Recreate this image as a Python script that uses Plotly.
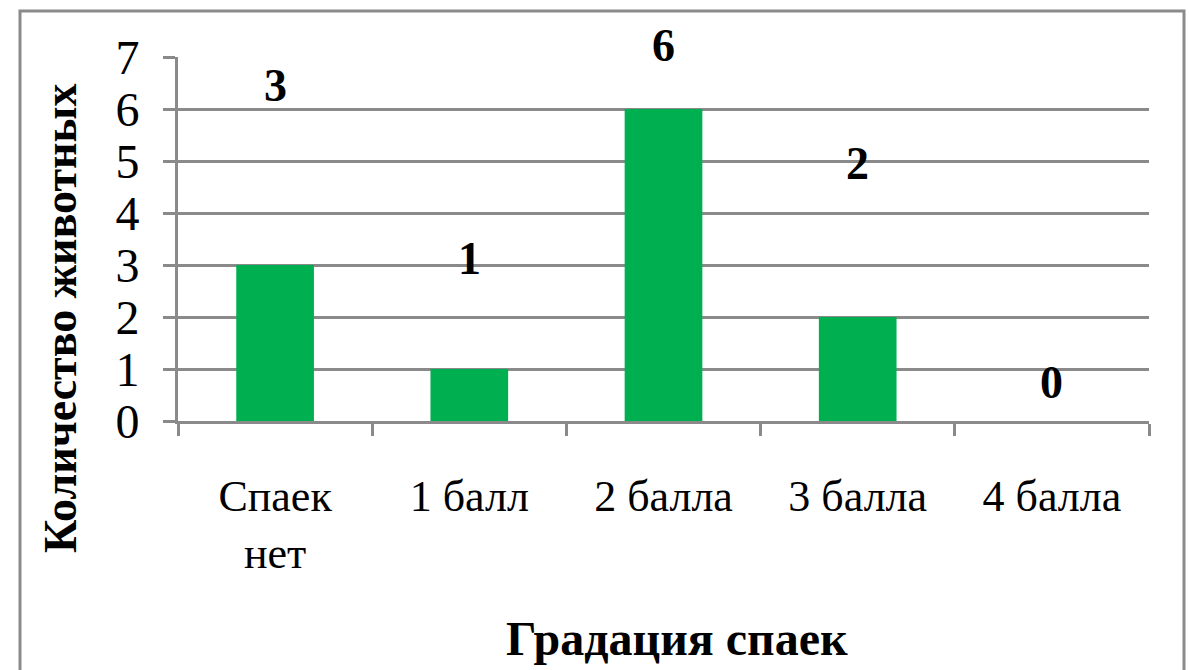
import plotly.graph_objects as go

categories = ["Спаек<br>нет", "1 балл", "2 балла", "3 балла", "4 балла"]
counts = [3, 1, 6, 2, 0]
y_ticks = [0, 1, 2, 3, 4, 5, 6, 7]
label_shift_px = [180, 111, 64, 154, 39]

W, H = 1189, 670
ml, mr, mt, mb = 178, 40, 57, 249
pw, ph = W - ml - mr, H - mt - mb

def px(x):
    return (x - ml) / pw

def py(y):
    return (H - mb - y) / ph

GREY = "#8a8a8a"
FONT = "Liberation Serif"
TXT = "#000000"

fig = go.Figure()
fig.add_trace(go.Bar(
    x=categories, y=counts,
    marker=dict(color="#00B050", line=dict(width=0)),
    width=0.4,
))

for c, v, s in zip(categories, counts, label_shift_px):
    fig.add_annotation(x=c, y=v, text=f"<b>{v}</b>", showarrow=False,
                       yshift=s, font=dict(family=FONT, size=46, color=TXT),
                       xref="x", yref="y")

fig.add_annotation(x=px(60), y=py(318), xref="paper", yref="paper",
                   xanchor="center", yanchor="middle",
                   text="<b>Количество животных</b>", textangle=-90, showarrow=False,
                   font=dict(family=FONT, size=46, color=TXT))
fig.add_annotation(x=px(677), y=py(638), xref="paper", yref="paper",
                   xanchor="center", yanchor="middle",
                   text="<b>Градация спаек</b>", showarrow=False,
                   font=dict(family=FONT, size=48, color=TXT))

fig.add_shape(type="rect", xref="paper", yref="paper",
              x0=px(20), x1=px(1184), y0=py(690), y1=py(11),
              line=dict(color=GREY, width=3), layer="below")

fig.update_layout(
    width=W, height=H,
    margin=dict(l=ml, r=mr, t=mt, b=mb),
    plot_bgcolor="white", paper_bgcolor="white",
    showlegend=False,
    font=dict(family=FONT, color=TXT),
    xaxis=dict(
        type="category", categoryorder="array", categoryarray=categories,
        range=[-0.5, 4.5], tickson="boundaries",
        ticks="outside", ticklen=12, tickwidth=3, tickcolor=GREY,
        showline=True, linecolor=GREY, linewidth=3,
        showgrid=False, zeroline=False,
        tickfont=dict(family=FONT, size=44, color=TXT),
        ticklabelstandoff=34,
    ),
    yaxis=dict(
        range=[0, 7], tickvals=y_ticks,
        ticks="outside", ticklen=12, tickwidth=3, tickcolor=GREY,
        showline=True, linecolor=GREY, linewidth=3,
        showgrid=True, gridcolor=GREY, gridwidth=3,
        zeroline=False,
        tickfont=dict(family=FONT, size=48, color=TXT),
        ticklabelstandoff=14,
    ),
)

fig.write_html("out.html")
